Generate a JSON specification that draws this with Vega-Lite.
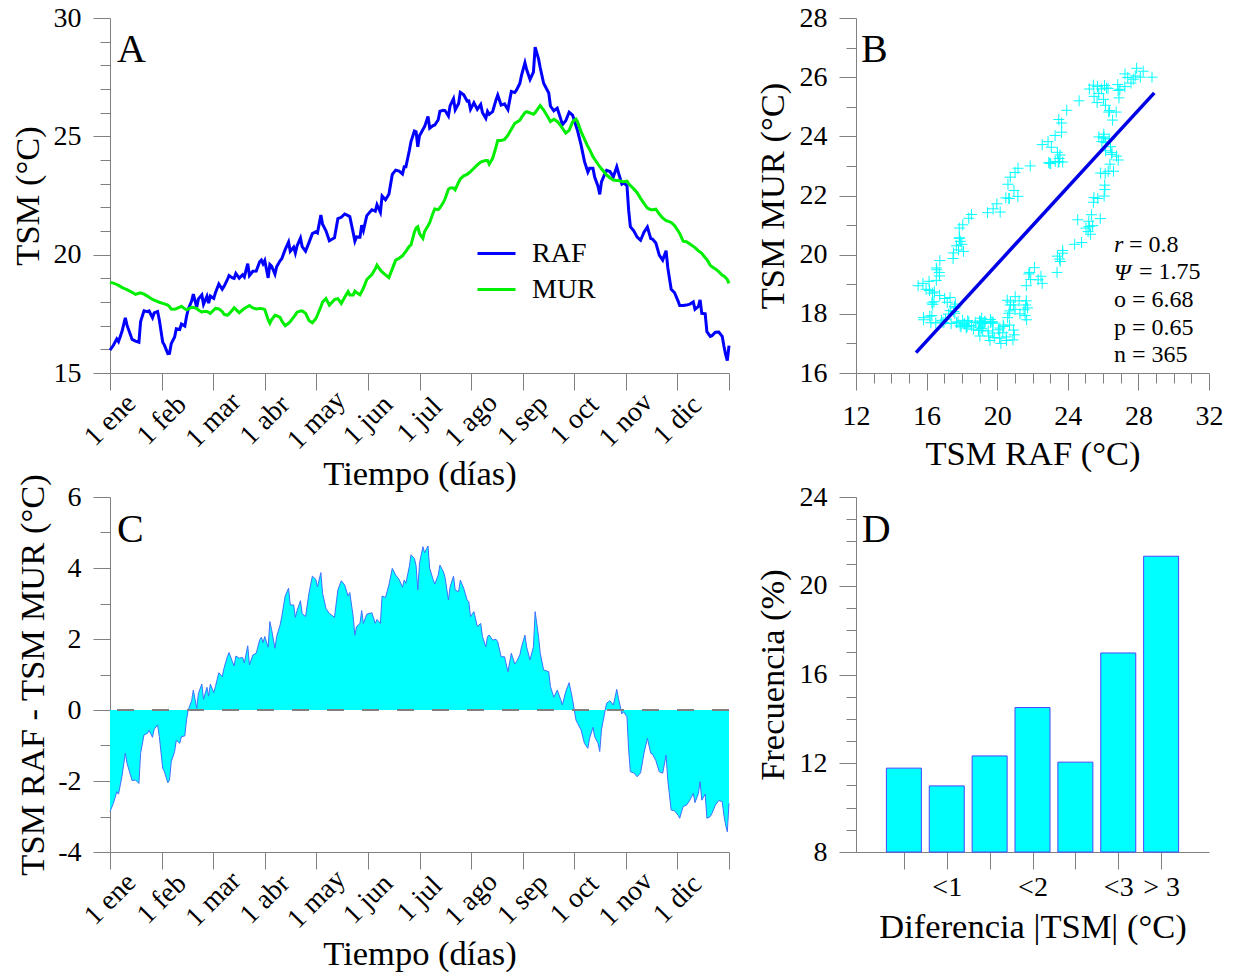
{
  "$schema": "https://vega.github.io/schema/vega-lite/v6.json",
  "background": "white",
  "padding": {"left": 10, "top": 4, "right": 5, "bottom": 5},
  "bounds": "flush",
  "columns": 2,
  "spacing": {"row": 124, "column": 127},
  "datasets": {
    "serie": [
      {"d":1,"RAF":15.97,"MUR":18.83,"dif":-2.86},{"d":3,"RAF":16.17,"MUR":18.80,"dif":-2.63},{"d":5,"RAF":16.44,"MUR":18.74,"dif":-2.30},{"d":6,"RAF":16.33,"MUR":18.70,"dif":-2.37},
      {"d":8,"RAF":16.74,"MUR":18.62,"dif":-1.88},{"d":10,"RAF":17.33,"MUR":18.55,"dif":-1.22},{"d":11,"RAF":17.02,"MUR":18.52,"dif":-1.50},{"d":14,"RAF":16.42,"MUR":18.41,"dif":-1.99},
      {"d":16,"RAF":16.35,"MUR":18.32,"dif":-1.97},{"d":18,"RAF":16.30,"MUR":18.37,"dif":-2.07},{"d":19,"RAF":17.17,"MUR":18.39,"dif":-1.22},{"d":21,"RAF":17.63,"MUR":18.33,"dif":-0.70},
      {"d":23,"RAF":17.59,"MUR":18.25,"dif":-0.66},{"d":24,"RAF":17.62,"MUR":18.20,"dif":-0.58},{"d":26,"RAF":17.34,"MUR":18.11,"dif":-0.77},{"d":27,"RAF":17.54,"MUR":18.08,"dif":-0.54},
      {"d":29,"RAF":17.60,"MUR":18.02,"dif":-0.42},{"d":30,"RAF":17.24,"MUR":17.99,"dif":-0.75},{"d":32,"RAF":16.30,"MUR":17.94,"dif":-1.64},{"d":33,"RAF":16.18,"MUR":17.92,"dif":-1.74},
      {"d":35,"RAF":15.82,"MUR":17.87,"dif":-2.05},{"d":36,"RAF":15.83,"MUR":17.80,"dif":-1.97},{"d":37,"RAF":16.24,"MUR":17.70,"dif":-1.46},{"d":39,"RAF":16.52,"MUR":17.69,"dif":-1.17},
      {"d":40,"RAF":16.87,"MUR":17.72,"dif":-0.85},{"d":42,"RAF":16.84,"MUR":17.78,"dif":-0.94},{"d":43,"RAF":17.07,"MUR":17.82,"dif":-0.75},{"d":45,"RAF":16.98,"MUR":17.71,"dif":-0.73},
      {"d":46,"RAF":17.39,"MUR":17.67,"dif":-0.28},{"d":47,"RAF":17.70,"MUR":17.70,"dif":0.00},{"d":49,"RAF":18.04,"MUR":17.78,"dif":0.26},{"d":50,"RAF":18.33,"MUR":17.77,"dif":0.56},
      {"d":52,"RAF":17.78,"MUR":17.73,"dif":0.05},{"d":53,"RAF":18.13,"MUR":17.66,"dif":0.47},{"d":55,"RAF":18.30,"MUR":17.57,"dif":0.73},{"d":56,"RAF":17.90,"MUR":17.60,"dif":0.30},
      {"d":58,"RAF":18.24,"MUR":17.60,"dif":0.64},{"d":59,"RAF":17.95,"MUR":17.56,"dif":0.39},{"d":60,"RAF":18.25,"MUR":17.52,"dif":0.73},{"d":62,"RAF":18.15,"MUR":17.66,"dif":0.49},
      {"d":63,"RAF":18.39,"MUR":17.73,"dif":0.66},{"d":65,"RAF":18.76,"MUR":17.71,"dif":1.05},{"d":67,"RAF":18.54,"MUR":17.60,"dif":0.94},{"d":68,"RAF":18.65,"MUR":17.48,"dif":1.17},
      {"d":70,"RAF":18.94,"MUR":17.44,"dif":1.50},{"d":71,"RAF":19.12,"MUR":17.50,"dif":1.62},{"d":73,"RAF":19.02,"MUR":17.66,"dif":1.36},{"d":74,"RAF":19.00,"MUR":17.76,"dif":1.24},
      {"d":75,"RAF":19.21,"MUR":17.69,"dif":1.52},{"d":77,"RAF":19.01,"MUR":17.55,"dif":1.46},{"d":79,"RAF":19.15,"MUR":17.67,"dif":1.48},{"d":80,"RAF":19.06,"MUR":17.73,"dif":1.33},
      {"d":82,"RAF":19.62,"MUR":17.81,"dif":1.81},{"d":83,"RAF":19.12,"MUR":17.85,"dif":1.27},{"d":85,"RAF":19.30,"MUR":17.75,"dif":1.55},{"d":87,"RAF":19.31,"MUR":17.71,"dif":1.60},
      {"d":89,"RAF":19.70,"MUR":17.73,"dif":1.97},{"d":90,"RAF":19.77,"MUR":17.72,"dif":2.05},{"d":91,"RAF":19.61,"MUR":17.71,"dif":1.90},{"d":92,"RAF":19.75,"MUR":17.68,"dif":2.07},
      {"d":94,"RAF":19.02,"MUR":17.25,"dif":1.77},{"d":95,"RAF":19.59,"MUR":17.10,"dif":2.49},{"d":96,"RAF":19.52,"MUR":17.25,"dif":2.27},{"d":98,"RAF":19.18,"MUR":17.44,"dif":1.74},
      {"d":99,"RAF":19.49,"MUR":17.42,"dif":2.07},{"d":101,"RAF":19.74,"MUR":17.35,"dif":2.39},{"d":102,"RAF":19.83,"MUR":17.20,"dif":2.63},{"d":104,"RAF":20.21,"MUR":17.00,"dif":3.21},
      {"d":106,"RAF":20.53,"MUR":17.10,"dif":3.43},{"d":107,"RAF":20.14,"MUR":17.18,"dif":2.96},{"d":109,"RAF":20.32,"MUR":17.36,"dif":2.96},{"d":110,"RAF":20.07,"MUR":17.46,"dif":2.61},
      {"d":111,"RAF":20.37,"MUR":17.57,"dif":2.80},{"d":113,"RAF":20.70,"MUR":17.62,"dif":3.08},{"d":114,"RAF":20.34,"MUR":17.62,"dif":2.72},{"d":116,"RAF":20.15,"MUR":17.52,"dif":2.63},
      {"d":118,"RAF":20.51,"MUR":17.22,"dif":3.29},{"d":120,"RAF":20.89,"MUR":17.12,"dif":3.77},{"d":122,"RAF":20.97,"MUR":17.29,"dif":3.68},{"d":123,"RAF":20.92,"MUR":17.45,"dif":3.47},
      {"d":125,"RAF":21.67,"MUR":17.80,"dif":3.87},{"d":126,"RAF":21.29,"MUR":18.00,"dif":3.29},{"d":128,"RAF":21.01,"MUR":18.15,"dif":2.86},{"d":130,"RAF":20.59,"MUR":17.87,"dif":2.72},
      {"d":132,"RAF":20.67,"MUR":18.02,"dif":2.65},{"d":133,"RAF":20.71,"MUR":18.10,"dif":2.61},{"d":135,"RAF":21.52,"MUR":18.14,"dif":3.38},{"d":137,"RAF":21.58,"MUR":17.94,"dif":3.64},
      {"d":139,"RAF":21.72,"MUR":18.20,"dif":3.52},{"d":141,"RAF":21.65,"MUR":18.44,"dif":3.21},{"d":142,"RAF":21.61,"MUR":18.30,"dif":3.31},{"d":144,"RAF":20.93,"MUR":18.30,"dif":2.63},
      {"d":145,"RAF":20.57,"MUR":18.46,"dif":2.11},{"d":146,"RAF":20.75,"MUR":18.40,"dif":2.35},{"d":148,"RAF":20.74,"MUR":18.30,"dif":2.44},{"d":149,"RAF":21.24,"MUR":18.44,"dif":2.80},
      {"d":150,"RAF":21.02,"MUR":18.58,"dif":2.44},{"d":152,"RAF":21.65,"MUR":18.95,"dif":2.70},{"d":155,"RAF":21.90,"MUR":19.16,"dif":2.74},{"d":157,"RAF":21.84,"MUR":19.40,"dif":2.44},
      {"d":158,"RAF":22.11,"MUR":19.56,"dif":2.55},{"d":160,"RAF":21.79,"MUR":19.35,"dif":2.44},{"d":161,"RAF":22.48,"MUR":19.27,"dif":3.21},{"d":163,"RAF":22.32,"MUR":19.15,"dif":3.17},
      {"d":165,"RAF":22.55,"MUR":19.03,"dif":3.52},{"d":167,"RAF":23.39,"MUR":19.40,"dif":3.99},{"d":169,"RAF":23.57,"MUR":19.77,"dif":3.80},{"d":171,"RAF":23.53,"MUR":19.85,"dif":3.68},
      {"d":173,"RAF":23.41,"MUR":19.95,"dif":3.46},{"d":174,"RAF":23.71,"MUR":20.05,"dif":3.66},{"d":175,"RAF":23.71,"MUR":20.14,"dif":3.57},{"d":177,"RAF":24.39,"MUR":20.35,"dif":4.04},
      {"d":178,"RAF":24.78,"MUR":20.41,"dif":4.37},{"d":180,"RAF":25.22,"MUR":20.95,"dif":4.27},{"d":181,"RAF":25.19,"MUR":21.13,"dif":4.06},{"d":182,"RAF":24.56,"MUR":21.18,"dif":3.38},
      {"d":183,"RAF":25.03,"MUR":20.90,"dif":4.13},{"d":184,"RAF":25.15,"MUR":20.78,"dif":4.37},{"d":185,"RAF":25.29,"MUR":20.69,"dif":4.60},{"d":186,"RAF":25.41,"MUR":20.98,"dif":4.43},
      {"d":188,"RAF":25.84,"MUR":21.22,"dif":4.62},{"d":189,"RAF":25.34,"MUR":21.35,"dif":3.99},{"d":191,"RAF":25.45,"MUR":21.77,"dif":3.68},{"d":192,"RAF":25.48,"MUR":21.93,"dif":3.55},
      {"d":194,"RAF":25.70,"MUR":21.90,"dif":3.80},{"d":195,"RAF":26.06,"MUR":21.98,"dif":4.08},{"d":197,"RAF":26.10,"MUR":22.20,"dif":3.90},{"d":198,"RAF":26.09,"MUR":22.35,"dif":3.74},
      {"d":200,"RAF":25.86,"MUR":22.76,"dif":3.10},{"d":201,"RAF":26.29,"MUR":22.82,"dif":3.47},{"d":203,"RAF":26.59,"MUR":22.82,"dif":3.77},{"d":204,"RAF":26.12,"MUR":22.74,"dif":3.38},
      {"d":206,"RAF":26.39,"MUR":23.06,"dif":3.33},{"d":207,"RAF":26.86,"MUR":23.20,"dif":3.66},{"d":209,"RAF":26.76,"MUR":23.33,"dif":3.43},{"d":211,"RAF":26.49,"MUR":23.39,"dif":3.10},
      {"d":212,"RAF":26.50,"MUR":23.45,"dif":3.05},{"d":213,"RAF":26.14,"MUR":23.51,"dif":2.63},{"d":215,"RAF":26.42,"MUR":23.65,"dif":2.77},{"d":217,"RAF":26.14,"MUR":23.79,"dif":2.35},
      {"d":219,"RAF":26.35,"MUR":23.91,"dif":2.44},{"d":220,"RAF":26.01,"MUR":23.94,"dif":2.07},{"d":222,"RAF":25.76,"MUR":23.98,"dif":1.78},{"d":223,"RAF":26.05,"MUR":23.98,"dif":2.07},
      {"d":224,"RAF":25.93,"MUR":23.82,"dif":2.11},{"d":226,"RAF":26.04,"MUR":24.07,"dif":1.97},{"d":228,"RAF":26.54,"MUR":24.55,"dif":1.99},{"d":229,"RAF":26.74,"MUR":24.82,"dif":1.92},
      {"d":231,"RAF":26.32,"MUR":24.82,"dif":1.50},{"d":233,"RAF":26.37,"MUR":24.87,"dif":1.50},{"d":235,"RAF":26.13,"MUR":25.05,"dif":1.08},{"d":237,"RAF":26.90,"MUR":25.30,"dif":1.60},
      {"d":239,"RAF":26.85,"MUR":25.55,"dif":1.30},{"d":240,"RAF":26.95,"MUR":25.59,"dif":1.36},{"d":242,"RAF":27.23,"MUR":25.68,"dif":1.55},{"d":243,"RAF":27.58,"MUR":25.80,"dif":1.78},
      {"d":245,"RAF":28.11,"MUR":26.00,"dif":2.11},{"d":246,"RAF":27.82,"MUR":26.04,"dif":1.78},{"d":248,"RAF":27.40,"MUR":25.99,"dif":1.41},{"d":250,"RAF":27.71,"MUR":25.93,"dif":1.78},
      {"d":251,"RAF":28.77,"MUR":26.00,"dif":2.77},{"d":253,"RAF":28.27,"MUR":26.20,"dif":2.07},{"d":254,"RAF":27.90,"MUR":26.30,"dif":1.60},{"d":256,"RAF":27.24,"MUR":26.11,"dif":1.13},
      {"d":259,"RAF":26.83,"MUR":25.75,"dif":1.08},{"d":260,"RAF":26.28,"MUR":25.62,"dif":0.66},{"d":262,"RAF":26.08,"MUR":25.72,"dif":0.36},{"d":264,"RAF":26.19,"MUR":25.63,"dif":0.56},
      {"d":266,"RAF":25.75,"MUR":25.45,"dif":0.30},{"d":267,"RAF":25.49,"MUR":25.35,"dif":0.14},{"d":269,"RAF":25.66,"MUR":25.14,"dif":0.52},{"d":271,"RAF":26.02,"MUR":25.25,"dif":0.77},
      {"d":273,"RAF":25.90,"MUR":25.60,"dif":0.30},{"d":274,"RAF":25.68,"MUR":25.68,"dif":0.00},{"d":275,"RAF":25.45,"MUR":25.73,"dif":-0.28},{"d":276,"RAF":25.22,"MUR":25.60,"dif":-0.38},
      {"d":278,"RAF":24.64,"MUR":25.20,"dif":-0.56},{"d":280,"RAF":23.94,"MUR":24.88,"dif":-0.94},{"d":282,"RAF":23.49,"MUR":24.57,"dif":-1.08},{"d":283,"RAF":23.65,"MUR":24.45,"dif":-0.80},
      {"d":285,"RAF":23.65,"MUR":24.14,"dif":-0.49},{"d":286,"RAF":23.28,"MUR":24.03,"dif":-0.75},{"d":288,"RAF":22.88,"MUR":23.82,"dif":-0.94},{"d":289,"RAF":22.55,"MUR":23.72,"dif":-1.17},
      {"d":290,"RAF":23.07,"MUR":23.63,"dif":-0.56},{"d":292,"RAF":23.41,"MUR":23.46,"dif":-0.05},{"d":293,"RAF":23.56,"MUR":23.37,"dif":0.19},{"d":295,"RAF":23.51,"MUR":23.25,"dif":0.26},
      {"d":297,"RAF":23.29,"MUR":23.15,"dif":0.14},{"d":298,"RAF":23.50,"MUR":23.14,"dif":0.36},{"d":299,"RAF":23.71,"MUR":23.13,"dif":0.58},{"d":300,"RAF":23.46,"MUR":23.13,"dif":0.33},
      {"d":302,"RAF":22.98,"MUR":23.09,"dif":-0.11},{"d":303,"RAF":23.03,"MUR":23.08,"dif":-0.05},{"d":305,"RAF":22.92,"MUR":23.11,"dif":-0.19},{"d":306,"RAF":21.87,"MUR":23.00,"dif":-1.13},
      {"d":307,"RAF":21.18,"MUR":22.92,"dif":-1.74},{"d":309,"RAF":21.01,"MUR":22.78,"dif":-1.77},{"d":311,"RAF":20.74,"MUR":22.62,"dif":-1.88},{"d":313,"RAF":20.61,"MUR":22.38,"dif":-1.77},
      {"d":315,"RAF":20.95,"MUR":22.17,"dif":-1.22},{"d":317,"RAF":21.17,"MUR":21.97,"dif":-0.80},{"d":319,"RAF":20.68,"MUR":21.90,"dif":-1.22},{"d":320,"RAF":20.66,"MUR":21.90,"dif":-1.24},
      {"d":322,"RAF":20.49,"MUR":21.92,"dif":-1.43},{"d":324,"RAF":19.98,"MUR":21.72,"dif":-1.74},{"d":326,"RAF":19.77,"MUR":21.55,"dif":-1.78},{"d":328,"RAF":20.17,"MUR":21.44,"dif":-1.27},
      {"d":329,"RAF":19.45,"MUR":21.42,"dif":-1.97},{"d":331,"RAF":18.54,"MUR":21.36,"dif":-2.82},{"d":333,"RAF":18.39,"MUR":21.23,"dif":-2.84},{"d":335,"RAF":18.05,"MUR":21.01,"dif":-2.96},
      {"d":336,"RAF":17.85,"MUR":20.90,"dif":-3.05},{"d":338,"RAF":17.85,"MUR":20.57,"dif":-2.72},{"d":340,"RAF":17.87,"MUR":20.55,"dif":-2.68},{"d":342,"RAF":17.91,"MUR":20.45,"dif":-2.54},
      {"d":344,"RAF":18.00,"MUR":20.35,"dif":-2.35},{"d":345,"RAF":17.69,"MUR":20.30,"dif":-2.61},{"d":347,"RAF":17.81,"MUR":20.16,"dif":-2.35},{"d":348,"RAF":18.09,"MUR":20.11,"dif":-2.02},
      {"d":349,"RAF":17.52,"MUR":20.06,"dif":-2.54},{"d":351,"RAF":17.50,"MUR":19.87,"dif":-2.37},{"d":352,"RAF":16.75,"MUR":19.80,"dif":-3.05},{"d":354,"RAF":16.55,"MUR":19.55,"dif":-3.00},
      {"d":355,"RAF":16.58,"MUR":19.49,"dif":-2.91},{"d":357,"RAF":16.72,"MUR":19.40,"dif":-2.68},{"d":359,"RAF":16.73,"MUR":19.28,"dif":-2.55},{"d":361,"RAF":16.55,"MUR":19.13,"dif":-2.58},
      {"d":362,"RAF":16.14,"MUR":19.10,"dif":-2.96},{"d":363,"RAF":15.79,"MUR":19.03,"dif":-3.24},{"d":364,"RAF":15.52,"MUR":18.95,"dif":-3.43},{"d":365,"RAF":16.16,"MUR":18.79,"dif":-2.63}
    ],
    "ajuste": [
      {"RAF": 15.4, "MUR": 16.69},
      {"RAF": 28.9, "MUR": 25.47}
    ],
    "barras": [
      {"pos": 1, "clase": "<0.5", "frec": 11.78},
      {"pos": 2, "clase": "<1", "frec": 10.98},
      {"pos": 3, "clase": "<1.5", "frec": 12.33},
      {"pos": 4, "clase": "<2", "frec": 14.51},
      {"pos": 5, "clase": "<2.5", "frec": 12.05},
      {"pos": 6, "clase": "<3", "frec": 16.97},
      {"pos": 7, "clase": "> 3", "frec": 21.33}
    ]
  },
  "concat": [
    {
      "width": 619,
      "height": 355,
      "layer": [
        {
          "data": {"name": "serie"},
          "transform": [{"fold": ["RAF", "MUR"], "as": ["fuente", "tsm"]}],
          "mark": {"type": "line", "strokeWidth": 3},
          "encoding": {
            "x": {"field": "d", "type": "quantitative",
              "scale": {"domain": [1, 365], "nice": false, "zero": false},
              "axis": {
                "values": [1, 31.3333, 61.6667, 92, 122.3333, 152.6667, 183, 213.3333, 243.6667, 274, 304.3333, 334.6667, 365],
                "tickCount": 500,
                "labelExpr": "['1 ene','1 feb','1 mar','1 abr','1 may','1 jun','1 jul','1 ago','1 sep','1 oct','1 nov','1 dic',''][round((datum.value - 1) * 12 / 364)]",
                "labelAngle": -45, "labelAlign": "center", "labelBaseline": "middle", "labelPadding": 30,
                "labelOverlap": false,
                "title": "Tiempo (días)", "titleY": 111, "titleBaseline": "alphabetic"
              }},
            "y": {"field": "tsm", "type": "quantitative",
              "scale": {"domain": [15, 30], "nice": false, "zero": false},
              "axis": {
                "values": [15,16,17,18,19,20,21,22,23,24,25,26,27,28,29,30],
                "tickCount": 500,
                "labelExpr": "datum.value % 5 === 0 ? '' + datum.value : ''",
                "labelFontSize": {"condition": {"test": "datum.value % 5 === 0", "value": 28}, "value": 1},
                "labelOverlap": false,
                "labelPadding": 12,
                "tickSize": {"condition": {"test": "datum.value % 5 === 0", "value": 17}, "value": 10},
                "title": "TSM (°C)", "titleX": -72, "titleBaseline": "alphabetic"
              }},
            "color": {"field": "fuente", "type": "nominal",
              "scale": {"domain": ["RAF", "MUR"], "range": ["#0000ff", "#00ee00"]},
              "legend": {"orient": "none", "legendX": 366, "legendY": 215, "title": null,
                "symbolType": "stroke", "symbolSize": 1444, "symbolStrokeWidth": 3,
                "labelFontSize": 28, "labelFont": "Liberation Serif", "labelColor": "#000000",
                "labelOffset": 15, "rowPadding": 1}}
          }
        },
        {
          "data": {"values": [{}]},
          "mark": {"type": "text", "fontSize": 40, "align": "left", "baseline": "alphabetic", "font": "Liberation Serif", "color": "#000000"},
          "encoding": {"x": {"datum": 5.1}, "y": {"datum": 28.14}, "text": {"value": "A"}}
        }
      ]
    },
    {
      "width": 353,
      "height": 355,
      "layer": [
        {
          "data": {"name": "serie"},
          "mark": {"type": "point", "shape": "M-1,0L1,0M0,-1L0,1", "size": 121, "filled": false, "color": "#00ffff", "strokeWidth": 1, "opacity": 1},
          "encoding": {
            "x": {"field": "RAF", "type": "quantitative",
              "scale": {"domain": [12, 32], "nice": false, "zero": false},
              "axis": {
                "values": [12,13,14,15,16,17,18,19,20,21,22,23,24,25,26,27,28,29,30,31,32],
                "tickCount": 500,
                "labelExpr": "datum.value % 4 === 0 ? '' + datum.value : ''",
                "labelFontSize": {"condition": {"test": "datum.value % 4 === 0", "value": 28}, "value": 1},
                "labelOverlap": false,
                "tickSize": {"condition": {"test": "datum.value % 4 === 0", "value": 17}, "value": 10},
                "labelPadding": 12,
                "title": "TSM RAF (°C)", "titleY": 91, "titleBaseline": "alphabetic"
              }},
            "y": {"field": "MUR", "type": "quantitative",
              "scale": {"domain": [16, 28], "nice": false, "zero": false},
              "axis": {
                "values": [16,17,18,19,20,21,22,23,24,25,26,27,28],
                "tickCount": 500,
                "labelExpr": "datum.value % 2 === 0 ? '' + datum.value : ''",
                "labelFontSize": {"condition": {"test": "datum.value % 2 === 0", "value": 28}, "value": 1},
                "labelOverlap": false,
                "labelPadding": 12,
                "tickSize": {"condition": {"test": "datum.value % 2 === 0", "value": 17}, "value": 10},
                "title": "TSM MUR (°C)", "titleX": -73, "titleBaseline": "alphabetic"
              }}
          }
        },
        {
          "data": {"name": "ajuste"},
          "mark": {"type": "line", "color": "#0000e6", "strokeWidth": 3.5},
          "encoding": {
            "x": {"field": "RAF", "type": "quantitative"},
            "y": {"field": "MUR", "type": "quantitative"}
          }
        },
        {
          "data": {"values": [{}]},
          "mark": {"type": "text", "fontSize": 40, "align": "left", "baseline": "alphabetic", "font": "Liberation Serif", "color": "#000000"},
          "encoding": {"x": {"datum": 12.28}, "y": {"datum": 26.51}, "text": {"value": "B"}}
        },
        {
          "data": {"values": [{}]},
          "mark": {"type": "text", "fontSize": 24, "fontStyle": "italic", "align": "left", "baseline": "alphabetic", "font": "Liberation Serif", "color": "#000000", "lineHeight": 27.5},
          "encoding": {"x": {"datum": 26.62}, "y": {"datum": 20.09}, "text": {"value": ["r", "Ψ"]}}
        },
        {
          "data": {"values": [{}]},
          "mark": {"type": "text", "fontSize": 24, "align": "left", "baseline": "alphabetic", "font": "Liberation Serif", "color": "#000000"},
          "encoding": {"x": {"datum": 27.47}, "y": {"datum": 20.09}, "text": {"value": "= 0.8"}}
        },
        {
          "data": {"values": [{}]},
          "mark": {"type": "text", "fontSize": 24, "align": "left", "baseline": "alphabetic", "font": "Liberation Serif", "color": "#000000"},
          "encoding": {"x": {"datum": 28.03}, "y": {"datum": 19.18}, "text": {"value": "= 1.75"}}
        },
        {
          "data": {"values": [{}]},
          "mark": {"type": "text", "fontSize": 24, "align": "left", "baseline": "alphabetic", "font": "Liberation Serif", "color": "#000000", "lineHeight": 27.5},
          "encoding": {"x": {"datum": 26.62}, "y": {"datum": 18.23}, "text": {"value": ["o = 6.68", "p = 0.65", "n = 365"]}}
        }
      ]
    },
    {
      "width": 619,
      "height": 355,
      "layer": [
        {
          "data": {"name": "serie"},
          "mark": {"type": "area", "color": "#00ffff", "opacity": 1, "line": {"color": "#3f6fff", "strokeWidth": 1}},
          "encoding": {
            "x": {"field": "d", "type": "quantitative",
              "scale": {"domain": [1, 365], "nice": false, "zero": false},
              "axis": {
                "values": [1, 31.3333, 61.6667, 92, 122.3333, 152.6667, 183, 213.3333, 243.6667, 274, 304.3333, 334.6667, 365],
                "tickCount": 500,
                "labelExpr": "['1 ene','1 feb','1 mar','1 abr','1 may','1 jun','1 jul','1 ago','1 sep','1 oct','1 nov','1 dic',''][round((datum.value - 1) * 12 / 364)]",
                "labelAngle": -45, "labelAlign": "center", "labelBaseline": "middle", "labelPadding": 30,
                "labelOverlap": false,
                "title": "Tiempo (días)", "titleY": 112, "titleBaseline": "alphabetic"
              }},
            "y": {"field": "dif", "type": "quantitative", "stack": null,
              "scale": {"domain": [-4, 6], "nice": false, "zero": false},
              "axis": {
                "values": [-4,-3,-2,-1,0,1,2,3,4,5,6],
                "tickCount": 500,
                "labelExpr": "datum.value % 2 === 0 ? '' + datum.value : ''",
                "labelFontSize": {"condition": {"test": "datum.value % 2 === 0", "value": 28}, "value": 1},
                "labelOverlap": false,
                "labelPadding": 12,
                "tickSize": {"condition": {"test": "datum.value % 2 === 0", "value": 17}, "value": 10},
                "title": "TSM RAF - TSM MUR (°C)", "titleX": -67, "titleBaseline": "alphabetic"
              }},
            "y2": {"datum": 0}
          }
        },
        {
          "data": {"values": [{}]},
          "mark": {"type": "rule", "color": "#808080", "strokeWidth": 2, "strokeDash": [17, 18]},
          "encoding": {"y": {"datum": 0}}
        },
        {
          "data": {"values": [{}]},
          "mark": {"type": "text", "fontSize": 40, "align": "left", "baseline": "alphabetic", "font": "Liberation Serif", "color": "#000000"},
          "encoding": {"x": {"datum": 5.1}, "y": {"datum": 4.73}, "text": {"value": "C"}}
        }
      ]
    },
    {
      "width": 353,
      "height": 355,
      "layer": [
        {
          "data": {"name": "barras"},
          "mark": {"type": "bar", "width": 35, "color": "#00ffff", "stroke": "#4646ff", "strokeWidth": 1},
          "encoding": {
            "x": {"field": "pos", "type": "quantitative",
              "scale": {"domain": [0, 8], "nice": false, "zero": false},
              "axis": {
                "values": [1, 2, 3, 4, 5, 6, 7],
                "tickCount": 500,
                "labelExpr": "['', '', '<1', '', '<2', '', '<3', '> 3'][datum.value]",
                "labelOverlap": false,
                "labelPadding": 4,
                "title": "Diferencia |TSM| (°C)", "titleY": 85, "titleBaseline": "alphabetic"
              }},
            "y": {"field": "frec", "type": "quantitative",
              "scale": {"domain": [8, 24], "nice": false, "zero": false},
              "axis": {
                "values": [8,9,10,11,12,13,14,15,16,17,18,19,20,21,22,23,24],
                "tickCount": 500,
                "labelExpr": "datum.value % 4 === 0 ? '' + datum.value : ''",
                "labelFontSize": {"condition": {"test": "datum.value % 4 === 0", "value": 28}, "value": 1},
                "labelOverlap": false,
                "labelPadding": 12,
                "tickSize": {"condition": {"test": "datum.value % 4 === 0", "value": 17}, "value": 10},
                "title": "Frecuencia (%)", "titleX": -73, "titleBaseline": "alphabetic"
              }},
            "y2": {"datum": 8}
          }
        },
        {
          "data": {"values": [{}]},
          "mark": {"type": "text", "fontSize": 40, "align": "left", "baseline": "alphabetic", "font": "Liberation Serif", "color": "#000000"},
          "encoding": {"x": {"datum": 0.02}, "y": {"datum": 21.97}, "text": {"value": "D"}}
        }
      ]
    }
  ],
  "config": {
    "font": "Liberation Serif",
    "view": {"stroke": null},
    "axis": {
      "domainColor": "#808080",
      "tickColor": "#808080",
      "domainWidth": 1,
      "tickWidth": 1,
      "tickSize": 17,
      "grid": false,
      "labelFont": "Liberation Serif",
      "labelFontSize": 28,
      "labelColor": "#000000",
      "labelPadding": 10,
      "labelOverlap": false,
      "labelFlush": false,
      "titleFont": "Liberation Serif",
      "titleFontSize": 34.5,
      "titleFontWeight": "normal",
      "titleColor": "#000000"
    }
  }
}
